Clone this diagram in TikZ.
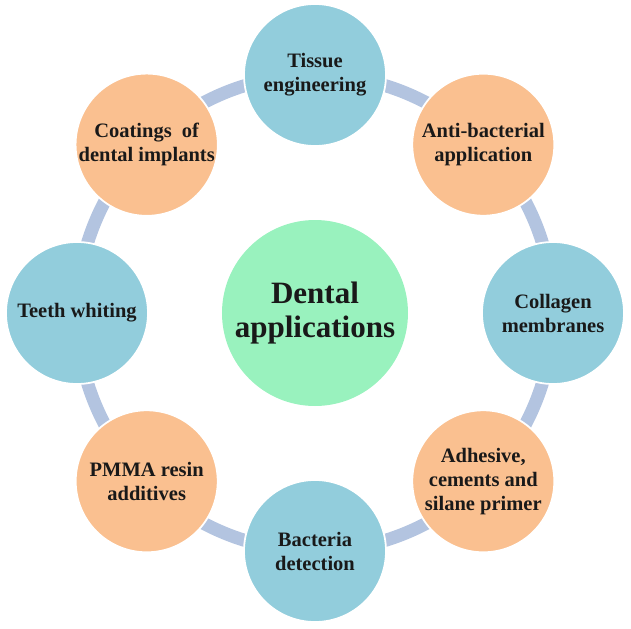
\documentclass[tikz,border=0pt]{standalone}
\usepackage{fontspec}
\setmainfont{Liberation Serif}[BoldFont={Liberation Serif Bold}]
\usetikzlibrary{positioning}
\usetikzlibrary{backgrounds}
\definecolor{topicblue}{RGB}{146,205,220}
\definecolor{topicorange}{RGB}{250,192,144}
\definecolor{hubgreen}{RGB}{153,242,190}
\definecolor{ringlink}{RGB}{179,196,224}

\begin{document}
\begin{tikzpicture}[
    topic/.style={circle, draw=white, line width=1.5pt, minimum size=4.26cm, inner sep=0pt,
        align=center, text=black!90, font=\fontsize{17.5}{20.5}\selectfont\bfseries},
    bluetopic/.style={topic, fill=topicblue},
    orangetopic/.style={topic, fill=topicorange},
    hub/.style={circle, fill=hubgreen, minimum size=5.58cm, inner sep=0pt,
        align=center, text=black!90, font=\fontsize{26.5}{29}\selectfont\bfseries},
    link/.style={draw=ringlink, line width=0.39cm}]
    \useasboundingbox (-9.45,-9.45) rectangle (9.48,9.39);

    \node (hub) [hub] {Dental\\applications};

    \node (t1) [bluetopic] at (90:7.14) {Tissue\\engineering};
    \node (t2) [orangetopic] at (45:7.14) {Anti-bacterial\\application};
    \node (t3) [bluetopic] at (0:7.14) {Collagen\\membranes};
    \node (t4) [orangetopic] at (-45:7.14) {Adhesive,\\cements and\\silane primer};
    \node (t5) [bluetopic] at (-90:7.14) {Bacteria\\detection};
    \node (t6) [orangetopic] at (-135:7.14) {PMMA resin\\additives};
    \node (t7) [bluetopic] at (180:7.14) {Teeth whiting};
    \node (t8) [orangetopic] at (135:7.14) {Coatings~ of\\dental implants};

    % ring behind the circles
    \begin{scope}[on background layer]
        \draw[link] (t1.center) arc[start angle=90, end angle=45, radius=7.14];
        \draw[link] (t2.center) arc[start angle=45, end angle=0, radius=7.14];
        \draw[link] (t3.center) arc[start angle=0, end angle=-45, radius=7.14];
        \draw[link] (t4.center) arc[start angle=-45, end angle=-90, radius=7.14];
        \draw[link] (t5.center) arc[start angle=-90, end angle=-135, radius=7.14];
        \draw[link] (t6.center) arc[start angle=-135, end angle=-180, radius=7.14];
        \draw[link] (t7.center) arc[start angle=180, end angle=135, radius=7.14];
        \draw[link] (t8.center) arc[start angle=135, end angle=90, radius=7.14];
    \end{scope}
\end{tikzpicture}
\end{document}
